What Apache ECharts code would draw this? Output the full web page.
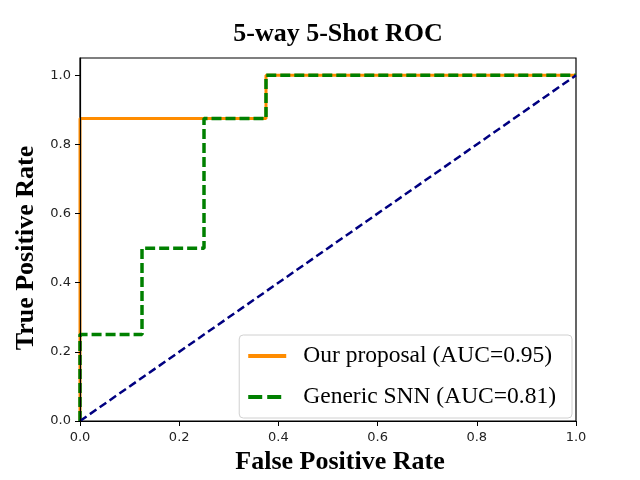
<!DOCTYPE html>
<html>
<head>
<meta charset="utf-8">
<script src="https://cdn.jsdelivr.net/npm/echarts@6/dist/echarts.min.js"></script>
<style>
html, body { margin: 0; padding: 0; background: #fff; }
#roc { width: 640px; height: 480px; }
</style>
</head>
<body>
<div id="roc"></div>
<script>
// ROC points (false positive rate, true positive rate)
var proposalFpr = [0, 0, 0.375, 0.375, 1];
var proposalTpr = [0, 0.875, 0.875, 1, 1];
var snnFpr = [0, 0, 0.125, 0.125, 0.25, 0.25, 0.375, 0.375, 1];
var snnTpr = [0, 0.25, 0.25, 0.5, 0.5, 0.875, 0.875, 1, 1];
var chanceFpr = [0, 1];
var chanceTpr = [0, 1];
var tickValues = [0, 0.2, 0.4, 0.6, 0.8, 1.0];

function pairs(xs, ys) {
    var out = [];
    for (var i = 0; i < xs.length; i++) out.push([xs[i], ys[i]]);
    return out;
}

var dom = document.getElementById("roc");
var myChart = echarts.init(dom);
var serif = '"Liberation Serif", "DejaVu Serif", serif';
var fmt = function (v) { return Number(v).toFixed(1); };

var option = {
    animation: false,
    title: {
        text: '5-way 5-Shot ROC',
        left: 333,
        textAlign: 'center',
        top: 16,
        textStyle: { fontFamily: serif, fontSize: 26, fontWeight: 'bold', color: '#000' }
    },
    grid: {
        left: 80, right: 64, top: 58, bottom: 53,
        show: true, borderColor: '#000', borderWidth: 1.2
    },
    legend: {
        orient: 'vertical',
        right: 68,
        bottom: 62,
        data: [
            { name: 'Our proposal (AUC=0.95)', lineStyle: { width: 4 } },
            { name: 'Generic SNN (AUC=0.81)', lineStyle: { width: 4, type: [14, 5] } }
        ],
        itemWidth: 38,
        itemHeight: 16,
        itemGap: 17,
        padding: [9, 16, 9, 7],
        borderColor: '#d0d0d0',
        borderWidth: 1,
        borderRadius: 4,
        backgroundColor: 'rgba(255,255,255,0.85)',
        itemStyle: { color: 'transparent', borderWidth: 0 },
        textStyle: { fontFamily: serif, fontSize: 23.5, color: '#000', padding: [0, 0, 0, 12] }
    },
    xAxis: {
        type: 'value', min: 0, max: 1, interval: 0.2,
        z: 10,
        name: 'False Positive Rate',
        nameLocation: 'middle',
        nameGap: 28,
        nameTextStyle: { fontFamily: serif, fontSize: 26, fontWeight: 'bold', color: '#000', padding: [0, 0, 0, 24] },
        axisLine: { lineStyle: { color: '#000', width: 1.2 } },
        axisTick: { show: true, inside: false, length: 5, lineStyle: { color: '#000' }, customValues: tickValues },
        axisLabel: { fontFamily: '"DejaVu Sans"', fontSize: 13, color: '#222', margin: 10, formatter: fmt, customValues: tickValues },
        splitLine: { show: false }
    },
    yAxis: {
        type: 'value', min: 0, max: 1.05,
        z: 10,
        name: 'True Positive Rate',
        nameLocation: 'middle',
        nameGap: 41,
        nameTextStyle: { fontFamily: serif, fontSize: 26, fontWeight: 'bold', color: '#000', padding: [0, 17, 0, 0] },
        axisLine: { show: true, lineStyle: { color: '#000', width: 1.2 } },
        axisTick: { show: true, inside: false, length: 5, lineStyle: { color: '#000' }, customValues: tickValues },
        axisLabel: { fontFamily: '"DejaVu Sans"', fontSize: 13, color: '#222', margin: 9, formatter: fmt, customValues: tickValues },
        splitLine: { show: false }
    },
    series: [
        {
            name: 'Our proposal (AUC=0.95)',
            type: 'line',
            data: pairs(proposalFpr, proposalTpr),
            symbol: 'none',
            color: '#ff8c00',
            lineStyle: { color: '#ff8c00', width: 3 },
            z: 2
        },
        {
            name: 'Generic SNN (AUC=0.81)',
            type: 'line',
            data: pairs(snnFpr, snnTpr),
            symbol: 'none',
            color: '#008000',
            lineStyle: { color: '#008000', width: 3.5, type: [10, 4] },
            z: 3
        },
        {
            name: 'chance',
            type: 'line',
            data: pairs(chanceFpr, chanceTpr),
            symbol: 'none',
            color: '#000080',
            lineStyle: { color: '#000080', width: 2.5, type: [8, 4] },
            z: 4
        }
    ]
};

if (option && typeof option === "object") {
    myChart.setOption(option, true);
}
</script>
</body>
</html>
